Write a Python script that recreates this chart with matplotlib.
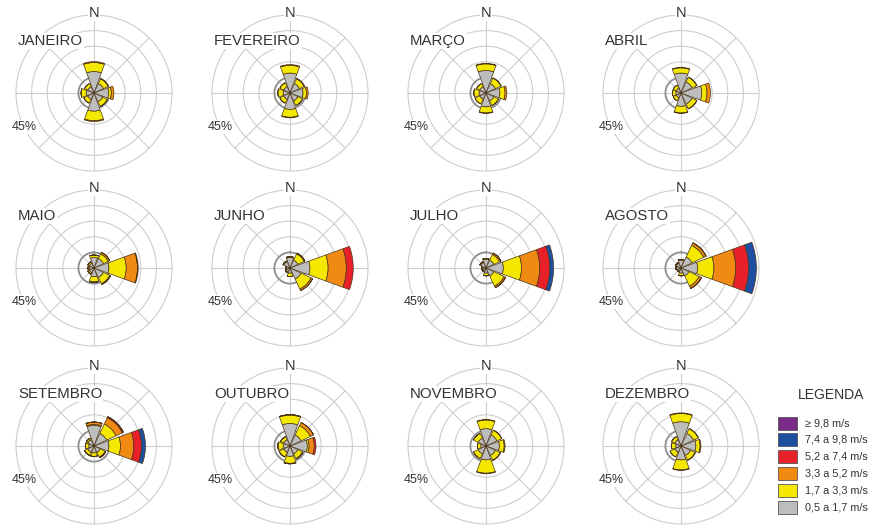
import numpy as np
import matplotlib
matplotlib.use("Agg")
import matplotlib.pyplot as plt
from matplotlib.patches import Rectangle

plt.rcParams['font.family'] = ['Liberation Sans', 'DejaVu Sans']

# direcoes: N, NE, E, SE, S, SW, W, NW  (frequencia em %)
directions = [0, 45, 90, 135, 180, 225, 270, 315]

months = ["JANEIRO", "FEVEREIRO", "MARÇO", "ABRIL",
          "MAIO", "JUNHO", "JULHO", "AGOSTO",
          "SETEMBRO", "OUTUBRO", "NOVEMBRO", "DEZEMBRO"]

speed_labels = ["0,5 a 1,7 m/s", "1,7 a 3,3 m/s", "3,3 a 5,2 m/s",
                "5,2 a 7,4 m/s", "7,4 a 9,8 m/s", "≥ 9,8 m/s"]
speed_colors = ["#bdbdbd", "#f5e800", "#f08a12", "#e8202a", "#1f4fa0", "#7a2a88"]

# each month: rows = speed classes (lowest first), columns = directions
janeiro = [[12.4, 6, 8.5, 5.5, 10.5, 4, 4.5, 4],
           [5.2, 3, 1.5, 3, 5.5, 2.5, 3, 2],
           [0.5, 0.3, 1.5, 0.2, 0.5, 0, 0, 0]]
fevereiro = [[11.5, 6, 7.5, 5, 9.5, 4, 4, 4],
             [4.5, 3, 2, 3, 4.5, 2.5, 3, 2.5],
             [0.4, 0.3, 1, 0, 0.3, 0, 0, 0]]
marco = [[13, 6, 8, 5, 8, 4, 4, 4],
         [3.8, 3.5, 3, 3, 3.5, 3, 3, 2],
         [0.3, 0.2, 1, 0, 0.3, 0, 0, 0]]
abril = [[11.5, 7, 12, 7, 7.7, 3, 3, 3],
         [3, 3, 3, 3, 3.8, 2, 2, 2],
         [0.3, 0.2, 2, 0.2, 0.3, 0, 0, 0]]
maio = [[6, 6, 8.6, 6, 5, 3, 2.5, 3],
        [1.5, 3, 10, 4, 3, 1, 1, 1],
        [0, 1, 6.5, 0.5, 0.3, 0, 0, 0],
        [0, 0, 0.4, 0, 0, 0, 0, 0]]
junho = [[6, 5, 11.5, 7, 3, 2.5, 2, 4],
         [0.5, 4, 10.5, 6.4, 2, 0.5, 0.5, 0.5],
         [0, 0.5, 10.5, 1, 0, 0, 0, 0],
         [0, 0, 4, 0, 0, 0, 0, 0]]
julho = [[5, 5, 10, 5, 3, 2, 2, 3.5],
         [0.5, 3.6, 10.5, 6.5, 1.5, 0.5, 0.5, 0.5],
         [0, 0.9, 10.5, 1, 0, 0, 0, 0],
         [0, 0, 5.8, 0, 0, 0, 0, 0],
         [0, 0, 2.2, 0, 0, 0, 0, 0]]
agosto = [[4.5, 7, 9.6, 5, 3, 2, 2.5, 3],
          [0.5, 7.4, 9.4, 6.5, 1.5, 0.5, 0.5, 0.5],
          [0, 1.6, 12.6, 1.5, 0, 0, 0, 0],
          [0, 0, 7.4, 0, 0, 0, 0, 0],
          [0, 0, 4.5, 0, 0, 0, 0, 0]]
setembro = [[11.9, 8, 8.6, 4, 4, 4, 3, 4],
            [0.5, 6, 6.7, 3, 2, 2, 2, 1],
            [1.4, 4, 7.7, 0.5, 0, 0, 0, 0],
            [0, 0.7, 4.4, 0, 0, 0, 0, 0],
            [0, 0, 2.3, 0, 0, 0, 0, 0]]
outubro = [[13, 7, 10, 5, 6, 4, 4, 4],
           [4.8, 6, 1, 3, 4, 3, 3, 2],
           [0.3, 2, 3, 0.2, 0.3, 0, 0, 0],
           [0, 0, 1, 0, 0, 0, 0, 0]]
novembro = [[10, 7, 7.7, 6, 8, 5, 3, 5],
            [5, 3, 2.8, 3, 7.7, 3, 2, 3],
            [0.3, 0.2, 0.5, 0.2, 0.3, 0, 0, 0]]
dezembro = [[14, 8, 8.6, 6, 8, 4, 3, 4],
            [4.8, 3, 2.4, 3, 5.8, 3, 2.5, 2],
            [0.3, 0.2, 0.5, 0, 0.3, 0, 0, 0]]

month_data = [janeiro, fevereiro, marco, abril, maio, junho,
              julho, agosto, setembro, outubro, novembro, dezembro]

W, H = 871, 526
col_x = [94, 290, 486, 681]
row_y = [93, 268, 446]
R = 78
grid_c = "#cdcdcd"
txt_c = "#333333"


def main():
    fig = plt.figure(figsize=(W / 100, H / 100), dpi=100)
    theta = np.deg2rad(directions)
    width = np.deg2rad(40)

    for i, (name, data) in enumerate(zip(months, month_data)):
        cx, cy = col_x[i % 4], row_y[i // 4]
        ax = fig.add_axes([(cx - R) / W, 1 - (cy + R) / H, 2 * R / W, 2 * R / H],
                          projection='polar')
        ax.set_theta_zero_location('N')
        ax.set_theta_direction(-1)
        ax.set_ylim(0, 45)
        ax.set_rgrids([9, 18, 27, 36], labels=[])
        ax.set_thetagrids(directions, labels=[])
        ax.grid(color=grid_c, lw=0.8)
        ax.spines['polar'].set_color(grid_c)
        ax.spines['polar'].set_linewidth(0.8)
        ax.set_axisbelow(True)
        ring = np.linspace(0, 2 * np.pi, 200)
        ax.plot(ring, np.full_like(ring, 9), color="#909090", lw=1.3, zorder=1)

        bottom = np.zeros(len(directions))
        for k, vals in enumerate(data):
            vals = np.array(vals, dtype=float)
            ax.bar(theta, vals, width=width, bottom=bottom,
                   color=speed_colors[k], edgecolor="#4a3418", lw=0.5, zorder=3)
            bottom += vals

        box = dict(fc='white', ec='none', pad=0.6)
        fig.text(cx / W, 1 - (cy - 80) / H, "N", ha='center', va='center',
                 fontsize=10.5, color=txt_c, bbox=box)
        fig.text((cx - 76) / W, 1 - (cy - 52) / H, name, ha='left', va='center',
                 fontsize=10.8, color=txt_c, bbox=box)
        fig.text((cx - 82) / W, 1 - (cy + 34) / H, "45%", ha='left', va='center',
                 fontsize=9, color=txt_c, bbox=box)

    # legenda
    lax = fig.add_axes([0, 0, 1, 1])
    lax.set_xlim(0, W)
    lax.set_ylim(H, 0)
    lax.axis('off')
    lax.text(831, 395, "LEGENDA", ha='center', va='center', fontsize=10, color=txt_c)
    for j, k in enumerate(range(5, -1, -1)):
        y = 423 + 16.8 * j
        lax.add_patch(Rectangle((778, y - 6.5), 19, 13, fc=speed_colors[k],
                                ec="#555555", lw=0.6))
        lax.text(805, y, speed_labels[k], ha='left', va='center',
                 fontsize=7.8, color=txt_c)

    fig.savefig("out.png", dpi=100)


if __name__ == '__main__':
    main()
